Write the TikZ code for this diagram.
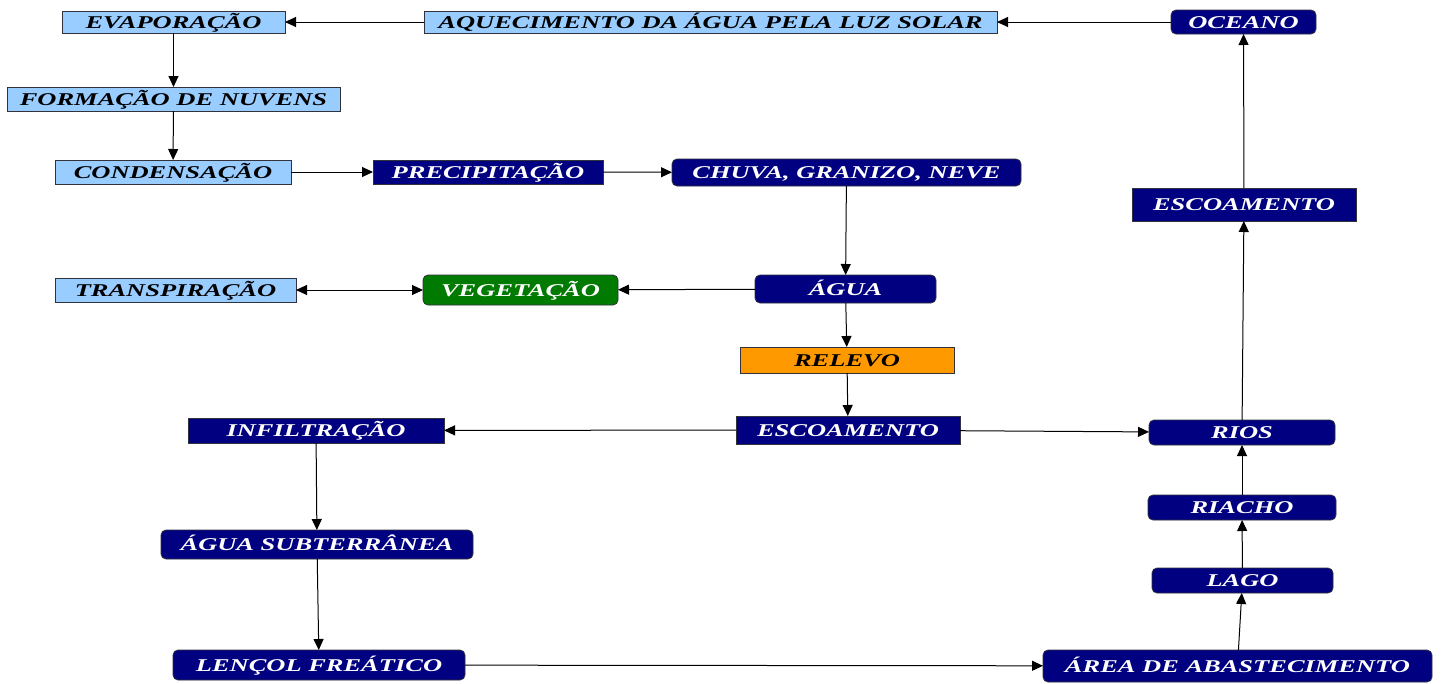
\documentclass[tikz,border=0pt]{standalone}
\usepackage{fontspec}
\newfontfamily\lbl{Liberation Serif}[FakeStretch=1.47]
\usetikzlibrary{arrows.meta}
\definecolor{skyfill}{RGB}{153,204,255}
\definecolor{navyfill}{RGB}{0,0,128}
\definecolor{leaffill}{RGB}{0,122,0}
\definecolor{soilfill}{RGB}{255,153,0}
\definecolor{edgegray}{RGB}{50,50,60}
\tikzset{
  box/.style={inner sep=0pt, outer sep=0pt, draw=edgegray, line width=0.8pt,
    text height=12pt, text depth=0pt,
    font=\lbl\bfseries\itshape\fontsize{18}{18}\selectfont},
  sky/.style={box, fill=skyfill, text=black},
  navy/.style={box, fill=navyfill, text=white},
  navyround/.style={navy, rounded corners=5pt},
  leaf/.style={box, fill=leaffill, text=white, rounded corners=5pt},
  soil/.style={box, fill=soilfill, text=black},
  flow/.style={draw=black, line width=1pt, -{Triangle[length=11pt,width=10pt]}},
  twoway/.style={draw=black, line width=1pt,
    {Triangle[length=11pt,width=10pt]}-{Triangle[length=11pt,width=10pt]}},
}
% \place{name}{style}{left}{top}{right}{bottom}{text}
\newcommand\place[7]{%
  \node[#2, minimum width={#5-#3}, minimum height={#6-#4}] (#1)
    at ({(#3+#5)/2},{(#4+#6)/2}) {#7};}
\begin{document}
\begin{tikzpicture}[x=1pt,y=-1pt]
\useasboundingbox[fill=white] (0,0) rectangle (1442,683);

% upper chain
\place{evap}{sky}{62}{11}{285}{33}{EVAPORAÇÃO}
\place{aquec}{sky}{424}{11}{997}{33}{AQUECIMENTO DA ÁGUA PELA LUZ SOLAR}
\place{oceano}{navyround}{1171}{10}{1316}{34}{OCEANO}
\place{nuvens}{sky}{7}{87}{340}{111}{FORMAÇÃO DE NUVENS}
\place{cond}{sky}{55}{160}{291}{184}{CONDENSAÇÃO}
\place{precip}{navy}{373}{160}{603}{184}{PRECIPITAÇÃO}
\place{chuva}{navyround}{672}{159}{1021}{186}{CHUVA, GRANIZO, NEVE}
\place{escsup}{navy}{1132}{188}{1356}{221}{ESCOAMENTO}

% middle
\place{transp}{sky}{55}{278}{296}{302}{TRANSPIRAÇÃO}
\place{veget}{leaf}{423}{275}{618}{305}{VEGETAÇÃO}
\place{agua}{navyround}{755}{275}{936}{303}{ÁGUA}
\place{relevo}{soil}{740}{347}{954}{373}{RELEVO}
\place{escmid}{navy}{736}{416}{960}{444}{ESCOAMENTO}
\place{infil}{navy}{188}{418}{444}{443}{INFILTRAÇÃO}
\place{rios}{navyround}{1149}{420}{1335}{445}{RIOS}

% lower
\place{riacho}{navyround}{1148}{495}{1336}{520}{RIACHO}
\place{lago}{navyround}{1152}{568}{1333}{593}{LAGO}
\place{subt}{navyround}{161}{530}{473}{559}{ÁGUA SUBTERRÂNEA}
\place{lencol}{navyround}{173}{650}{465}{680}{LENÇOL FREÁTICO}
\place{area}{navyround}{1043}{650}{1432}{682}{ÁREA DE ABASTECIMENTO}

% connectors
\draw[flow] (oceano) -- (aquec);
\draw[flow] (aquec) -- (evap);
\draw[flow] (evap) -- (nuvens);
\draw[flow] (nuvens) -- (cond);
\draw[flow] (cond) -- (precip);
\draw[flow] (precip) -- (chuva);
\draw[flow] (chuva) -- (agua);
\draw[flow] (agua) -- (veget);
\draw[twoway] (transp) -- (veget);
\draw[flow] (agua) -- (relevo);
\draw[flow] (relevo) -- (escmid);
\draw[flow] (escmid) -- (infil);
\draw[flow] (escmid) -- (rios);
\draw[flow] (infil) -- (subt);
\draw[flow] (subt) -- (lencol);
\draw[flow] (lencol) -- (area);
\draw[flow] (area) -- (lago);
\draw[flow] (lago) -- (riacho);
\draw[flow] (riacho) -- (rios);
\draw[flow] (rios) -- (escsup);
\draw[flow] (escsup) -- (oceano);
\end{tikzpicture}
\end{document}
